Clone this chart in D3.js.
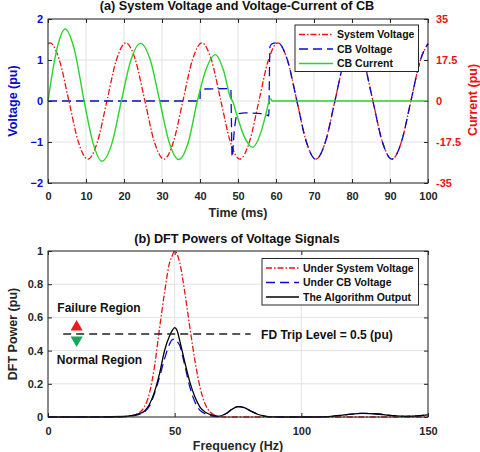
<!DOCTYPE html>
<html>
<head>
<meta charset="utf-8">
<script src="https://cdn.jsdelivr.net/npm/d3@7"></script>
<style>
  body { margin: 0; background: #fff; }
  svg text { font-family: "Liberation Sans", Arial, sans-serif; font-weight: bold; }
</style>
</head>
<body>
<div id="container"></div>
<script>
// ---------- data ----------
// (a) time in ms, voltages in pu (left axis), current in pu (right axis)
const sysTime = [0, 0.5, 3, 5.5, 8, 10.5, 13, 15.5, 18, 20.5, 23, 25.5, 28, 30.5, 33, 35.5, 38,
  40.5, 43, 45.5, 48, 50.5, 53, 55.5, 58, 60.5, 63, 65.5, 68, 70.5, 73, 75.5, 78,
  80.5, 83, 85.5, 88, 90.5, 93, 95.5, 98, 100];
const sysVoltage = [1.40, 1.42, 1.0, 0, -1.0, -1.42, -1.0, 0, 1.0, 1.42, 1.0, 0, -1.0, -1.42, -1.0, 0, 1.0,
  1.42, 1.0, 0, -1.0, -1.42, -1.0, 0, 1.0, 1.42, 1.0, 0, -1.0, -1.42, -1.0, 0, 1.0,
  1.42, 1.0, 0, -1.0, -1.42, -1.0, 0, 1.0, 1.40];

const cbTime = [0, 40, 40.05, 48.1, 48.45, 49.0, 49.8, 52, 55, 57, 58.1, 58.4, 59.0,
  60.5, 63, 65.5, 68, 70.5, 73, 75.5, 78, 80.5, 83, 85.5, 88, 90.5, 93, 95.5, 98, 100];
const cbVoltage = [0, 0, 0.29, 0.30, -1.37, -0.75, -0.32, -0.29, -0.30, -0.32, -0.36, 1.32, 1.40,
  1.42, 1.0, 0, -1.0, -1.42, -1.0, 0, 1.0, 1.42, 1.0, 0, -1.0, -1.42, -1.0, 0, 1.0, 1.40];

const curTime = [0, 2.25, 4.5, 7.0, 9.5, 11.9, 14.2, 16.8, 19.3, 21.8, 24.3, 26.9, 29.4, 31.9, 34.4,
  36.9, 39.3, 41.7, 44.0, 46.2, 48.0, 48.7, 49.6, 51.6, 53.8, 56.0, 57.5, 58.2, 58.6, 59.0, 100];
const cbCurrent = [0, 21.5, 30.7, 21.5, 0, -18.2, -25.7, -18.2, 0, 17.4, 24.6, 17.6, 0, -17.7, -25.0,
  -17.7, 0, 14.0, 19.8, 13.0, 1.5, -0.5, -5.5, -15.0, -19.8, -13.5, -4.5, 0, 0.9, 0, 0];

const timeTicks = [0, 10, 20, 30, 40, 50, 60, 70, 80, 90, 100];
const voltTicks = [-2, -1, 0, 1, 2];
const currTicks = [-35, -17.5, 0, 17.5, 35];

// (b) frequency in Hz, DFT power in pu
const freqHz = [0, 20, 30, 33, 36, 38, 40, 42, 44, 46, 48, 49, 50, 51, 52, 54, 56, 58, 60, 62, 64, 66, 67,
  70, 72.5, 75, 77.5, 80, 83, 86, 88, 95, 105, 112, 118, 124, 130, 136, 141, 146, 150];
const pSystem = [0, 0, 0.002, 0.008, 0.025, 0.06, 0.14, 0.30, 0.53, 0.75, 0.93, 0.97, 1.0, 0.98, 0.93, 0.75, 0.54, 0.34, 0.18, 0.08, 0.03, 0.01, 0.004,
  0, 0, 0, 0, 0, 0, 0, 0, 0, 0, 0, 0, 0, 0, 0, 0, 0, 0];
const pCB = [0, 0, 0.002, 0.006, 0.015, 0.03, 0.065, 0.14, 0.24, 0.35, 0.44, 0.465, 0.47, 0.455, 0.43, 0.31, 0.18, 0.09, 0.04, 0.02, 0.008, 0.003, 0.002,
  0.018, 0.045, 0.063, 0.056, 0.036, 0.015, 0.004, 0.001, 0, 0, 0.004, 0.014, 0.022, 0.018, 0.008, 0.004, 0.007, 0.013];
const pAlgo = [0, 0, 0.003, 0.008, 0.02, 0.035, 0.075, 0.15, 0.26, 0.40, 0.49, 0.52, 0.538, 0.52, 0.46, 0.33, 0.21, 0.12, 0.06, 0.03, 0.015, 0.008, 0.004,
  0.018, 0.045, 0.063, 0.056, 0.036, 0.015, 0.004, 0.001, 0, 0, 0.004, 0.014, 0.022, 0.018, 0.008, 0.004, 0.007, 0.013];

const freqTicks = [0, 50, 100, 150];
const powerTicks = [0, 0.2, 0.4, 0.6, 0.8, 1];
const tripLevel = 0.5;

// ---------- drawing ----------
const W = 480, H = 452;
const axisColor = "#262626", gridColor = "#e2e2e2";
const red = "#ee1111", blue = "#0a0ad0", green = "#2ad42a";
const dashDot = "6,2,1.5,2", dashed = "9,5";

const svg = d3.select("#container").append("svg")
  .attr("width", W).attr("height", H);

const zip = (xs, ys) => xs.map((x, i) => [x, ys[i]]);

function grid(g, x, y, xt, yt) {
  g.selectAll("line.gx").data(xt).join("line").attr("class", "gx")
    .attr("x1", d => x(d)).attr("x2", d => x(d))
    .attr("y1", y.range()[0]).attr("y2", y.range()[1])
    .attr("stroke", gridColor);
  g.selectAll("line.gy").data(yt).join("line").attr("class", "gy")
    .attr("y1", d => y(d)).attr("y2", d => y(d))
    .attr("x1", x.range()[0]).attr("x2", x.range()[1])
    .attr("stroke", gridColor);
}

function styleAxis(g, color) {
  g.attr("font-size", 11).attr("font-family", null);
  g.select(".domain").remove();
  g.selectAll(".tick line").attr("stroke", axisColor);
  g.selectAll(".tick text").attr("fill", color);
}

function frame(g, x, y) {
  g.append("rect")
    .attr("x", x.range()[0]).attr("y", y.range()[1])
    .attr("width", x.range()[1] - x.range()[0])
    .attr("height", y.range()[0] - y.range()[1])
    .attr("fill", "none").attr("stroke", axisColor).attr("stroke-width", 1);
}

function legend(g, x0, y0, w, h, rows, lineLen) {
  g.append("rect").attr("x", x0).attr("y", y0).attr("width", w).attr("height", h)
    .attr("fill", "#fff").attr("stroke", axisColor).attr("stroke-width", 1);
  rows.forEach((r, i) => {
    const yy = y0 + 9.5 + i * 14.5;
    g.append("line").attr("x1", x0 + 4).attr("x2", x0 + 4 + lineLen)
      .attr("y1", yy).attr("y2", yy)
      .attr("stroke", r.color).attr("stroke-width", 1.3)
      .attr("stroke-dasharray", r.dash);
    g.append("text").attr("x", x0 + 8 + lineLen).attr("y", yy).attr("dy", "0.36em")
      .attr("font-size", 10.5).attr("fill", "#111").text(r.label);
  });
}

// ===== (a) =====
const xA = d3.scaleLinear().domain([0, 100]).range([48, 428]);
const yA = d3.scaleLinear().domain([-2, 2]).range([183, 19]);
const yA2 = d3.scaleLinear().domain([-35, 35]).range([183, 19]);

const gA = svg.append("g");
grid(gA, xA, yA, timeTicks, voltTicks);

gA.append("g").attr("transform", "translate(0,183)")
  .call(d3.axisBottom(xA).tickValues(timeTicks).tickSize(-4).tickPadding(9).tickFormat(d3.format("d")))
  .call(g => styleAxis(g, axisColor));
gA.append("g").attr("transform", "translate(0,19)")
  .call(d3.axisTop(xA).tickValues(timeTicks).tickSize(-4).tickFormat(""))
  .call(g => styleAxis(g, axisColor));
gA.append("g").attr("transform", "translate(48,0)")
  .call(d3.axisLeft(yA).tickValues(voltTicks).tickSize(-4).tickPadding(5).tickFormat(d3.format("d")))
  .call(g => styleAxis(g, blue));
gA.append("g").attr("transform", "translate(428,0)")
  .call(d3.axisRight(yA2).tickValues(currTicks).tickSize(-4).tickPadding(8).tickFormat(d => String(d)))
  .call(g => styleAxis(g, "#f01010"));

const lineV = d3.line().x(d => xA(d[0])).y(d => yA(d[1])).curve(d3.curveMonotoneX);
const lineI = d3.line().x(d => xA(d[0])).y(d => yA2(d[1])).curve(d3.curveMonotoneX);

gA.append("path").datum(zip(sysTime, sysVoltage)).attr("d", lineV)
  .attr("fill", "none").attr("stroke", red).attr("stroke-width", 1.3).attr("stroke-dasharray", dashDot);
gA.append("path").datum(zip(cbTime, cbVoltage)).attr("d", lineV)
  .attr("fill", "none").attr("stroke", blue).attr("stroke-width", 1.3).attr("stroke-dasharray", dashed);
gA.append("path").datum(zip(curTime, cbCurrent)).attr("d", lineI)
  .attr("fill", "none").attr("stroke", green).attr("stroke-width", 1.4);

frame(gA, xA, yA);

legend(gA, 295, 25, 123.5, 46.5, [
  {label: "System Voltage", color: red, dash: dashDot},
  {label: "CB Voltage", color: blue, dash: dashed},
  {label: "CB Current", color: green, dash: null}
], 34);

svg.append("text").attr("x", 237).attr("y", 10).attr("text-anchor", "middle")
  .attr("font-size", 12.7).attr("fill", "#111").text("(a) System Voltage and Voltage-Current of CB");
svg.append("text").attr("x", 238).attr("y", 217).attr("text-anchor", "middle")
  .attr("font-size", 12.5).attr("fill", axisColor).text("Time (ms)");
svg.append("text").attr("transform", "translate(17,101) rotate(-90)").attr("text-anchor", "middle")
  .attr("font-size", 12.5).attr("fill", blue).text("Voltage (pu)");
svg.append("text").attr("transform", "translate(477,100) rotate(-90)").attr("text-anchor", "middle")
  .attr("font-size", 12.5).attr("fill", "#f01010").text("Current (pu)");

// ===== (b) =====
const xB = d3.scaleLinear().domain([0, 150]).range([48, 428]);
const yB = d3.scaleLinear().domain([0, 1]).range([417, 251]);

const gB = svg.append("g");
grid(gB, xB, yB, freqTicks, powerTicks);

gB.append("g").attr("transform", "translate(0,417)")
  .call(d3.axisBottom(xB).tickValues(freqTicks).tickSize(-4).tickPadding(10).tickFormat(d3.format("d")))
  .call(g => styleAxis(g, axisColor));
gB.append("g").attr("transform", "translate(0,251)")
  .call(d3.axisTop(xB).tickValues(freqTicks).tickSize(-4).tickFormat(""))
  .call(g => styleAxis(g, axisColor));
gB.append("g").attr("transform", "translate(48,0)")
  .call(d3.axisLeft(yB).tickValues(powerTicks).tickSize(-4).tickPadding(5).tickFormat(d => String(d)))
  .call(g => styleAxis(g, axisColor));
gB.append("g").attr("transform", "translate(428,0)")
  .call(d3.axisRight(yB).tickValues(powerTicks).tickSize(-4).tickFormat(""))
  .call(g => styleAxis(g, axisColor));

const lineP = d3.line().x(d => xB(d[0])).y(d => yB(d[1])).curve(d3.curveMonotoneX);

gB.append("path").datum(zip(freqHz, pSystem)).attr("d", lineP)
  .attr("fill", "none").attr("stroke", red).attr("stroke-width", 1.3).attr("stroke-dasharray", dashDot);
gB.append("path").datum(zip(freqHz, pCB)).attr("d", lineP)
  .attr("fill", "none").attr("stroke", blue).attr("stroke-width", 1.3).attr("stroke-dasharray", dashed);
gB.append("path").datum(zip(freqHz, pAlgo)).attr("d", lineP)
  .attr("fill", "none").attr("stroke", "#000").attr("stroke-width", 1.3);

// trip level line + region markers
gB.append("line").attr("x1", xB(6)).attr("x2", xB(80)).attr("y1", yB(tripLevel)).attr("y2", yB(tripLevel))
  .attr("stroke", "#222").attr("stroke-width", 1.3).attr("stroke-dasharray", "8,5");
const tri = d3.symbol(d3.symbolTriangle, 64);
gB.append("path").attr("d", tri).attr("fill", "#ee1c1c")
  .attr("transform", `translate(${xB(11.3)},${yB(tripLevel) - 7})`);
gB.append("path").attr("d", tri).attr("fill", "#16a85a")
  .attr("transform", `translate(${xB(11.3)},${yB(tripLevel) + 6}) rotate(180)`);

gB.append("text").attr("x", xB(3.7)).attr("y", 312).attr("font-size", 12).attr("fill", "#111").text("Failure Region");
gB.append("text").attr("x", xB(3.5)).attr("y", 364).attr("font-size", 12).attr("fill", "#111").text("Normal Region");
gB.append("text").attr("x", xB(84.1)).attr("y", yB(tripLevel) + 4.5).attr("font-size", 12).attr("fill", "#111")
  .text("FD Trip Level = 0.5 (pu)");

frame(gB, xB, yB);

legend(gB, 262, 258.5, 156.5, 46.5, [
  {label: "Under System Voltage", color: red, dash: dashDot},
  {label: "Under CB Voltage", color: blue, dash: dashed},
  {label: "The Algorithm Output", color: "#000", dash: null}
], 33);

svg.append("text").attr("x", 237).attr("y", 243).attr("text-anchor", "middle")
  .attr("font-size", 12.7).attr("fill", "#111").text("(b) DFT Powers of Voltage Signals");
svg.append("text").attr("x", 238).attr("y", 450).attr("text-anchor", "middle")
  .attr("font-size", 12.5).attr("fill", axisColor).text("Frequency (Hz)");
svg.append("text").attr("transform", "translate(17,334) rotate(-90)").attr("text-anchor", "middle")
  .attr("font-size", 12.5).attr("fill", axisColor).text("DFT Power (pu)");
</script>
</body>
</html>
